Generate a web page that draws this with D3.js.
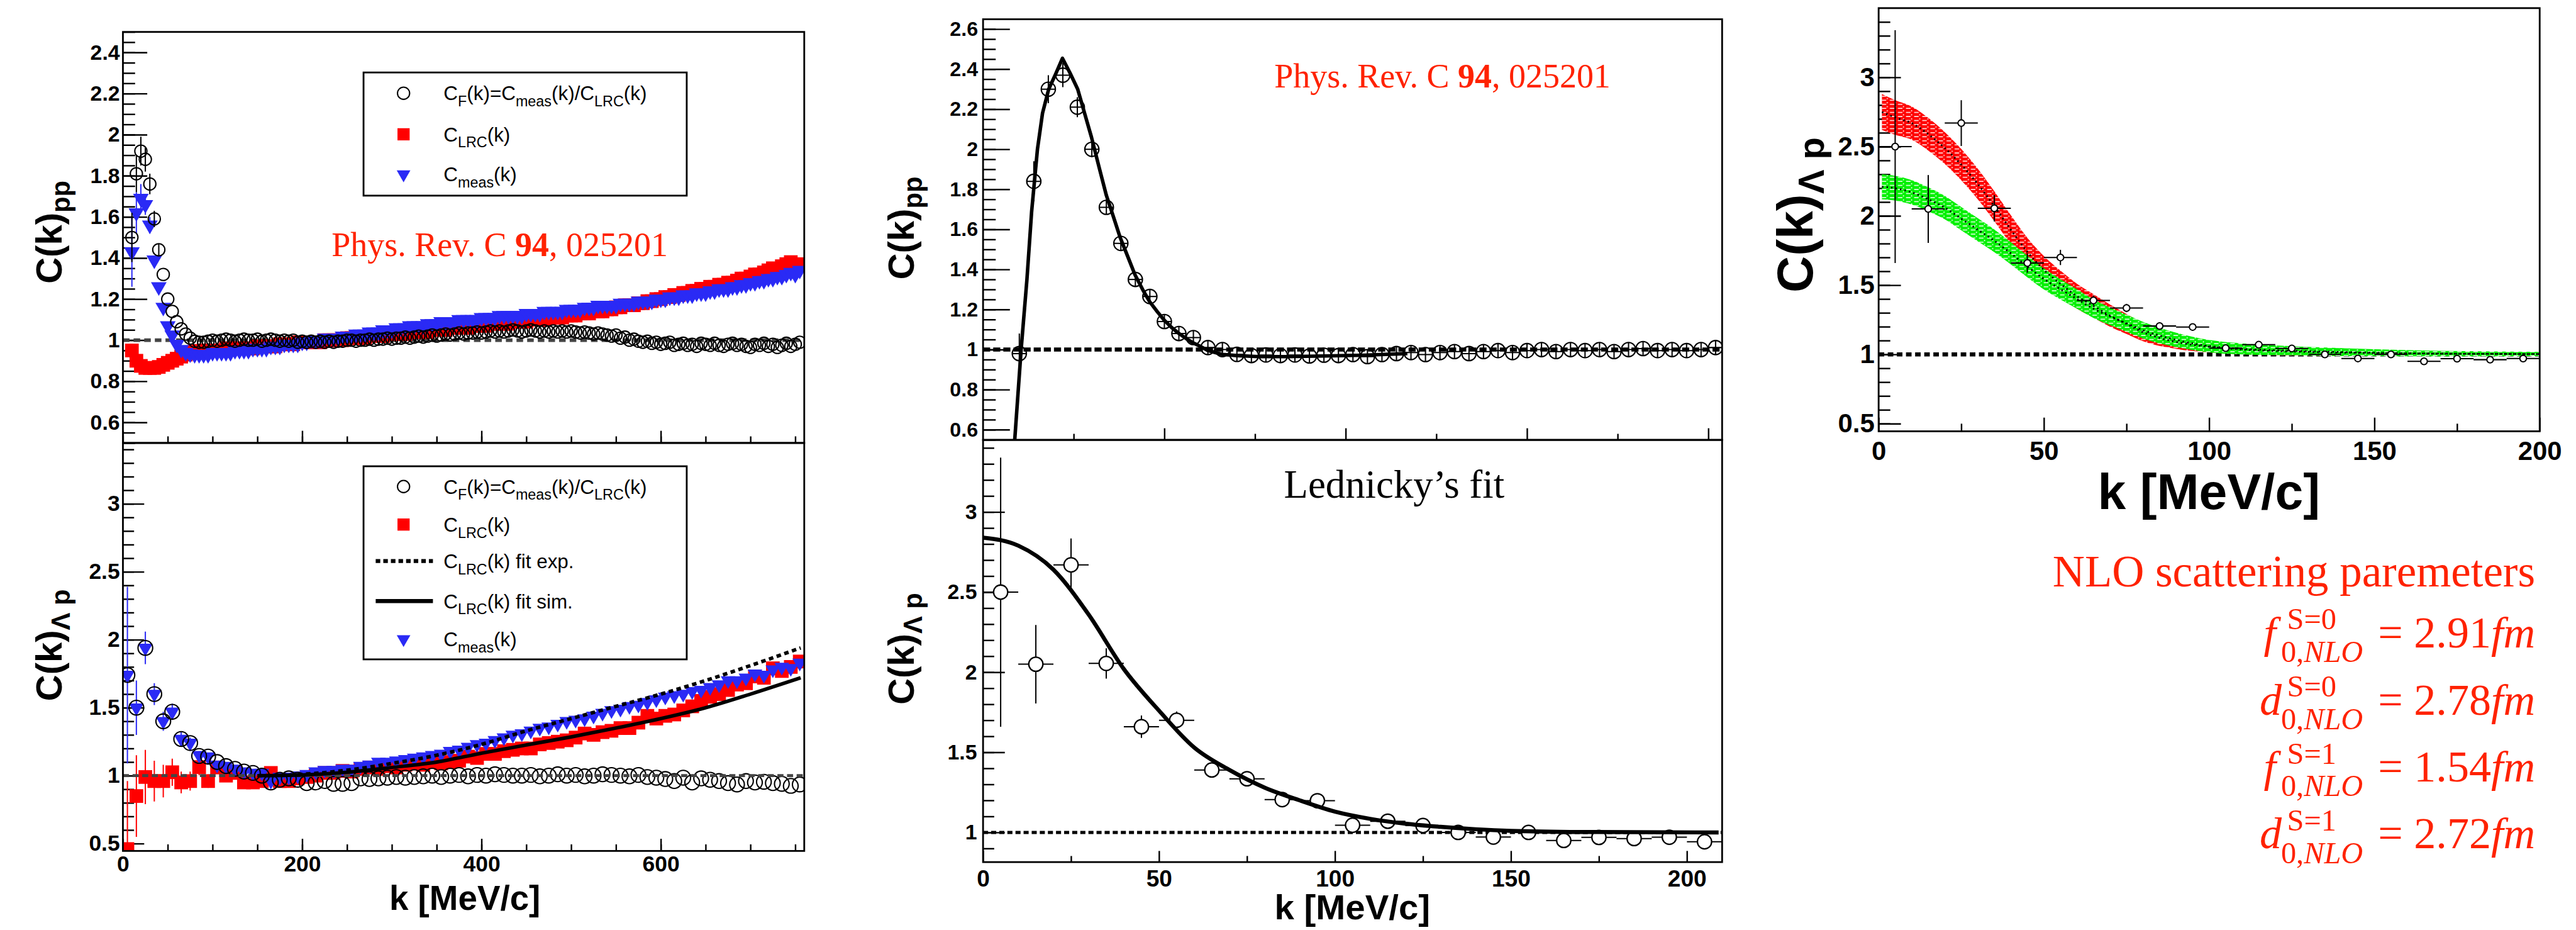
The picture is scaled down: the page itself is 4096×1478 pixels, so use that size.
<!DOCTYPE html>
<html>
<head>
<meta charset="utf-8">
<title>p-p and Lambda-p correlation functions</title>
<script src="https://d3js.org/d3.v7.min.js"></script>
<style>
  body { margin: 0; background: #fff; }
  svg { display: block; }
</style>
</head>
<body>
<svg id="fig" width="4096" height="1478" viewBox="0 0 5084 1835"></svg>
<script>
// ---------------- values ----------------

// top left: p-p, 5 MeV/c bins from 10 to 755
var ppBins = d3.range(10, 760, 5);
var ppCF = [1.50,1.81,1.92,1.88,1.76,1.59,1.44,1.32,1.20,1.14,1.09,1.055,1.03,1.01,0.995,0.99,
  0.99,0.995,1.0,0.995,1.0,1.005,1.0,0.995,1.0,1.005,1.0,1.0,1.005,0.995,1.0,1.005,1.0,0.995,1.0,0.995,
  1.0,0.99,0.995,0.99,0.995,0.99,0.995,0.99,0.995,0.99,0.995,0.995,1.0,
  1.0,0.995,1.0,1.0,1.005,1.0,1.005,1.005,1.01,1.005,1.01,1.01,1.015,1.01,1.015,1.02,1.015,1.02,1.025,1.02,
  1.025,1.03,1.025,1.03,1.035,1.03,1.035,1.035,1.04,1.035,
  1.04,1.045,1.04,1.045,1.04,1.045,1.05,1.045,1.04,1.045,1.05,1.045,1.04,1.045,1.04,1.045,1.04,1.045,1.04,1.045,
  1.04,1.035,1.04,1.035,1.03,1.035,1.03,1.025,
  1.02,1.025,1.01,1.015,1.0,1.005,0.995,0.99,0.995,0.985,0.99,0.98,0.985,0.99,0.975,0.98,0.985,0.975,0.98,0.97,
  0.985,0.98,0.975,0.985,0.975,0.97,0.98,0.985,0.975,0.98,0.97,0.965,0.98,0.975,0.985,0.97,0.98,0.965,0.975,0.985,
  0.97,0.98,0.99];
var ppCFErr = [0.12, 0.09, 0.07, 0.06, 0.05, 0.04, 0.03];
var ppMeas = [1.43,1.62,1.69,1.66,1.56,1.39,1.26,1.16,1.07,1.025,0.98,0.955,0.94,0.933,0.93,0.93,
  0.93,0.93,0.94,0.94,0.94,0.94,0.94,0.95,0.95,0.95,
  0.95,0.96,0.96,0.96,0.96,0.97,0.97,0.97,0.98,0.98,
  0.98,0.98,0.99,0.99,1.0,1.0,1.0,1.01,1.01,1.01,
  1.01,1.02,1.02,1.02,1.03,1.03,1.03,1.04,1.04,1.04,
  1.05,1.05,1.05,1.06,1.06,1.06,1.07,1.07,1.07,1.07,
  1.08,1.08,1.08,1.09,1.09,1.09,1.09,1.1,1.1,1.1,
  1.1,1.1,1.11,1.11,1.11,1.11,1.12,1.12,1.12,1.12,
  1.12,1.12,1.13,1.13,1.13,1.13,1.14,1.14,1.14,1.14,
  1.14,1.15,1.15,1.15,1.15,1.16,1.16,1.16,1.17,1.17,
  1.17,1.17,1.17,1.18,1.18,1.18,1.18,1.19,1.19,1.19,
  1.19,1.2,1.2,1.2,1.21,1.21,1.21,1.22,1.22,1.22,
  1.23,1.23,1.23,1.24,1.24,1.25,1.25,1.25,1.26,1.26,
  1.27,1.27,1.28,1.28,1.29,1.29,1.3,1.3,1.31,1.31,
  1.32,1.33,1.32,1.34];
var ppMeasErr = [0.17, 0.1, 0.07, 0.05, 0.04];
var ppLRC = [0.95,0.90,0.875,0.865,0.865,0.865,0.87,0.88,0.89,0.90,0.91,0.92,0.93,0.94,0.945,0.948,
  0.95,0.95,0.95,0.95,0.95,0.96,0.96,0.96,0.96,0.96,
  0.96,0.96,0.97,0.97,0.97,0.97,0.97,0.98,0.98,0.98,
  0.98,0.99,0.99,0.99,0.99,0.99,0.99,1.0,1.0,1.0,
  1.0,1.0,1.01,1.01,1.01,1.01,1.01,1.02,1.02,1.02,
  1.02,1.03,1.03,1.03,1.03,1.03,1.04,1.04,1.04,1.04,
  1.04,1.05,1.05,1.05,1.05,1.06,1.06,1.06,1.06,1.06,
  1.07,1.07,1.07,1.07,1.08,1.08,1.08,1.08,1.08,1.09,
  1.09,1.09,1.09,1.1,1.1,1.1,1.1,1.11,1.11,1.11,
  1.11,1.12,1.12,1.12,1.13,1.13,1.13,1.14,1.14,1.14,
  1.15,1.15,1.16,1.16,1.17,1.17,1.17,1.18,1.18,1.19,
  1.19,1.2,1.2,1.21,1.21,1.22,1.22,1.23,1.23,1.24,
  1.24,1.25,1.25,1.26,1.26,1.27,1.27,1.28,1.28,1.29,
  1.3,1.3,1.31,1.32,1.32,1.33,1.34,1.35,1.34,1.36,
  1.37,1.38,1.36,1.37];

// bottom left: Lambda-p, 10 MeV/c bins from 5 to 755
var lpBinsWide = d3.range(5, 760, 10);
var lpCF = [1.74,1.50,1.94,1.60,1.40,1.47,1.27,1.24,1.145,1.14,
  1.10,1.07,1.05,1.03,1.02,1.0,0.95,0.97,0.98,0.97,
  0.945,0.95,0.96,0.94,0.94,0.945,0.98,0.975,0.98,0.985,
  0.99,0.985,0.99,0.995,1.0,0.99,1.0,1.005,0.995,1.005,
  1.0,1.01,1.005,1.0,1.0,1.005,0.995,1.0,1.01,1.0,
  1.005,0.995,1.0,1.01,1.005,1.0,0.995,1.005,0.99,0.985,
  0.975,0.96,0.985,0.95,0.98,0.97,0.96,0.945,0.935,0.96,
  0.95,0.955,0.945,0.94,0.925,0.935];
var lpMeas = [1.74,1.50,1.94,1.60,1.40,1.47,1.27,1.24,1.15,1.14,
  1.08,1.07,1.05,1.03,1.02,1.02,0.96,0.99,0.99,1.0,
  1.01,1.03,1.04,1.04,1.05,1.05,1.07,1.08,1.1,1.1,
  1.11,1.12,1.13,1.14,1.15,1.16,1.18,1.19,1.21,1.23,
  1.24,1.26,1.28,1.3,1.31,1.33,1.35,1.36,1.38,1.4,
  1.41,1.42,1.44,1.46,1.48,1.49,1.51,1.52,1.54,1.56,
  1.58,1.59,1.6,1.62,1.63,1.65,1.67,1.7,1.7,1.72,
  1.75,1.74,1.78,1.8,1.79,1.83];
var lpMeasErr = [0.65, 0.2, 0.12, 0.08, 0.07, 0.06, 0.05, 0.04, 0.03, 0.03];
var lpLRC = [0.46,0.85,0.99,0.96,0.96,1.025,0.95,0.96,1.063,0.96,
  1.06,1.0,1.02,0.95,0.95,0.96,1.02,0.96,0.96,0.98,
  0.99,1.0,1.02,1.02,1.035,1.03,1.05,1.06,1.05,1.07,
  1.06,1.08,1.09,1.08,1.1,1.09,1.1,1.11,1.14,1.13,
  1.16,1.16,1.18,1.19,1.2,1.2,1.23,1.24,1.25,1.26,
  1.28,1.31,1.3,1.32,1.33,1.35,1.35,1.39,1.44,1.42,
  1.44,1.45,1.48,1.51,1.55,1.58,1.6,1.63,1.67,1.68,
  1.73,1.72,1.79,1.77,1.8,1.84];
var lpLRCErr = [0.5, 0.3, 0.2, 0.15, 0.12, 0.1, 0.08, 0.07, 0.06, 0.05];
var lrcFitK = [150, 200, 250, 300, 350, 400, 450, 500, 550, 600, 650, 700, 756];
var lrcFitExp = [1.0, 1.01, 1.04, 1.09, 1.15, 1.23, 1.33, 1.42, 1.51, 1.60, 1.70, 1.81, 1.94];
var lrcFitSim = [1.0, 1.005, 1.025, 1.06, 1.10, 1.165, 1.226, 1.285, 1.35, 1.42, 1.50, 1.60, 1.72];

// top middle: p-p (Phys. Rev. C 94, 025201), 4 MeV/c bins
var ppNarrowBins = d3.range(10, 203, 4);
var ppNarrow = [0.98,1.84,2.30,2.37,2.21,2.00,1.71,1.53,1.35,1.265,
  1.14,1.08,1.06,1.01,1.0,0.976,0.97,0.973,0.97,0.973,
  0.968,0.972,0.97,0.975,0.965,0.975,0.98,0.985,0.975,0.985,
  0.99,0.98,0.99,0.995,0.985,0.995,1.0,0.99,1.0,0.995,
  1.0,0.99,1.0,1.005,0.995,1.0,0.995,1.0,1.01];
var ppNarrowErr = [0.1, 0.1, 0.07, 0.06, 0.05, 0.04];
var ppFitK = [8.7,10.5,12.1,13.4,15.0,16.4,18.1,20.0,21.9,24,26.1,28,29.9,32,34,36,37.8,40,41.9,
  44,45.9,48,49.9,52,53.9,56,57.8,60,62,64,66,70,76,84,94,105,117];
var ppFitV = [0.54,1.0,1.35,1.69,2.0,2.18,2.30,2.375,2.454,2.38,2.30,2.18,2.06,1.91,1.77,1.66,1.56,1.46,1.373,
  1.30,1.24,1.19,1.148,1.11,1.082,1.055,1.035,1.015,0.995,0.985,0.976,0.97,0.965,0.965,0.968,0.972,0.98];

// Lambda-p data shown in the middle and right panels, 10 MeV/c bins
var lpBins = d3.range(5, 210, 10);
var lpVal = [2.50,2.05,2.67,2.055,1.66,1.70,1.39,1.335,1.205,1.198,1.045,1.07,1.043,1.0,0.971,1.0,0.95,0.969,0.962,0.97,0.942];
var lpErr = [0.84,0.245,0.165,0.095,0.07,0.055,0.035,0.03,0.025,0.025,0.02,0.02,0.02,0.015,0.015,0.015,0.015,0.015,0.015,0.015,0.015];
var ledK = [0,10,20,30,40,50,60,70,80,90,100,110,120,130,140,150,170,209];
var ledV = [2.84,2.79,2.64,2.36,2.02,1.76,1.53,1.39,1.28,1.20,1.13,1.085,1.055,1.035,1.02,1.01,1.003,1.0];

// right: NLO bands
var bandK = [1,5,10,15,20,25,30,35,40,45,50,55,60,65,70,75,80,90,100,110,120,135,150,170,200];
var redMid = [2.75,2.71,2.67,2.59,2.49,2.37,2.23,2.07,1.90,1.74,1.61,1.51,1.42,1.35,1.28,1.22,1.16,1.09,1.055,1.035,1.025,1.015,1.01,1.005,1.003];
var redHalf = [0.13,0.125,0.12,0.118,0.115,0.113,0.11,0.108,0.105,0.102,0.1,0.095,0.09,0.085,0.08,0.072,0.065,0.05,0.04,0.034,0.03,0.025,0.02,0.015,0.012];
var greenMid = [2.21,2.20,2.17,2.12,2.06,1.98,1.90,1.82,1.73,1.635,1.545,1.47,1.40,1.33,1.275,1.225,1.175,1.105,1.06,1.04,1.03,1.02,1.012,1.006,1.003];
var greenHalf = [0.09,0.089,0.088,0.087,0.085,0.084,0.083,0.082,0.08,0.078,0.076,0.073,0.07,0.067,0.064,0.062,0.06,0.052,0.045,0.04,0.035,0.03,0.025,0.02,0.015];

var nloSym = ["f", "d", "f", "d"];
var nloSpin = ["S=0", "S=0", "S=1", "S=1"];
var nloVal = ["2.91", "2.78", "1.54", "2.72"];

// ---------------- drawing ----------------
var SANS = "'Liberation Sans', Arial, Helvetica, sans-serif";
var SERIF = "'Liberation Serif', 'Times New Roman', serif";
var RED = "#ff0000", BLUE = "#2a2af5", GREEN = "#00f000", TXTRED = "#ff2200";

var svg = d3.select("#fig");
svg.append("rect").attr("width", 5084).attr("height", 1835).attr("fill", "#fff");
var defs = svg.append("defs");

function hatch(id, col) {
  var p = defs.append("pattern").attr("id", id).attr("patternUnits", "userSpaceOnUse")
    .attr("width", 16).attr("height", 8);
  p.append("rect").attr("width", 16).attr("height", 8).attr("fill", col);
  p.append("rect").attr("x", 2).attr("y", 5).attr("width", 9).attr("height", 1.8).attr("fill", "#fff");
  p.append("rect").attr("x", 12).attr("y", 1.5).attr("width", 2.2).attr("height", 2.2).attr("fill", "#fff");
}
hatch("hatchRed", RED);
hatch("hatchGreen", GREEN);

var panels = [];
function panel(o) {
  var x = d3.scaleLinear().domain(o.xd).range([o.l, o.r]);
  var y = d3.scaleLinear().domain(o.yd).range([o.b, o.t]);
  var cid = "clip-" + o.name;
  defs.append("clipPath").attr("id", cid).append("rect")
    .attr("x", o.l).attr("y", o.t).attr("width", o.r - o.l).attr("height", o.b - o.t);
  var axes = svg.append("g");
  var plot = svg.append("g").attr("clip-path", "url(#" + cid + ")");

  function style(g, fs) {
    g.select(".domain").remove();
    g.selectAll("line").attr("stroke", "#000").attr("stroke-width", 3);
    g.attr("font-size", fs).attr("font-family", SANS).attr("font-weight", "bold");
    g.selectAll("text").attr("fill", "#000");
  }
  axes.append("g").attr("transform", "translate(" + o.l + ",0)")
    .call(d3.axisLeft(y).tickValues(o.yMinor).tickSize(-o.yMinorLen).tickFormat(""))
    .call(style, 10);
  axes.append("g").attr("transform", "translate(" + o.l + ",0)")
    .call(d3.axisLeft(y).tickValues(o.yMajor).tickSize(-o.yMajorLen).tickPadding(o.yPad).tickFormat(String))
    .call(style, o.yFont);
  axes.append("g").attr("transform", "translate(0," + o.b + ")")
    .call(d3.axisBottom(x).tickValues(o.xMinor).tickSize(-o.xMinorLen).tickFormat(""))
    .call(style, 10);
  axes.append("g").attr("transform", "translate(0," + o.b + ")")
    .call(d3.axisBottom(x).tickValues(o.xMajor).tickSize(-o.xMajorLen).tickPadding(o.xPad || 0)
      .tickFormat(o.xLabels ? String : ""))
    .call(style, o.xFont || 10);

  var p = {x: x, y: y, plot: plot, o: o};
  panels.push(p);
  return p;
}

function rich(text, parts, subSize, shift) {
  var cur = 0;
  parts.forEach(function(pt) {
    var t = text.append("tspan").text(pt[0]);
    var target = pt[1] === "sub" ? shift : 0;
    if (target !== cur) { t.attr("dy", target - cur); cur = target; }
    if (pt[1]) t.attr("font-size", subSize);
  });
}

function yTitle(x, y, fs, sub) {
  var t = svg.append("text").attr("transform", "translate(" + x + "," + y + ") rotate(-90)")
    .attr("text-anchor", "middle").attr("font-family", SANS).attr("font-weight", "bold")
    .attr("font-size", fs);
  rich(t, [["C(k)"], [sub, "sub"]], fs * 0.72, fs * 0.22);
}
function xTitle(x, y, fs) {
  svg.append("text").attr("x", x).attr("y", y).attr("text-anchor", "middle")
    .attr("font-family", SANS).attr("font-weight", "bold").attr("font-size", fs).text("k [MeV/c]");
}
function unitLine(p, x0, x1, col, w, dash) {
  p.plot.append("line").attr("x1", p.x(x0)).attr("x2", p.x(x1)).attr("y1", p.y(1)).attr("y2", p.y(1))
    .attr("stroke", col).attr("stroke-width", w).attr("stroke-dasharray", dash);
}
function rows(bins, vals, errs) {
  return bins.map(function(k, i) { return {k: k, v: vals[i], e: (errs && errs[i]) || 0}; })
    .filter(function(d) { return d.v !== undefined; });
}
function squares(p, data, s, col) {
  p.plot.append("g").selectAll("rect").data(data).join("rect")
    .attr("x", function(d) { return p.x(d.k) - s / 2; })
    .attr("y", function(d) { return p.y(d.v) - s / 2; })
    .attr("width", s).attr("height", s).attr("fill", col);
}
function triangles(p, data, w, col) {
  var sym = d3.symbol().type(d3.symbolTriangle).size(Math.sqrt(3) / 4 * w * w);
  p.plot.append("g").selectAll("path").data(data).join("path")
    .attr("d", sym)
    .attr("transform", function(d) { return "translate(" + p.x(d.k) + "," + p.y(d.v) + ") rotate(180)"; })
    .attr("fill", col);
}
function circles(p, data, r, sw, fill) {
  p.plot.append("g").selectAll("circle").data(data).join("circle")
    .attr("cx", function(d) { return p.x(d.k); })
    .attr("cy", function(d) { return p.y(d.v); })
    .attr("r", r).attr("fill", fill || "none").attr("stroke", "#000").attr("stroke-width", sw);
}
function yErrors(p, data, col, sw) {
  p.plot.append("g").selectAll("line").data(data.filter(function(d) { return d.e > 0; })).join("line")
    .attr("x1", function(d) { return p.x(d.k); }).attr("x2", function(d) { return p.x(d.k); })
    .attr("y1", function(d) { return p.y(d.v - d.e); }).attr("y2", function(d) { return p.y(d.v + d.e); })
    .attr("stroke", col).attr("stroke-width", sw);
}
function xErrors(p, data, half, sw) {
  p.plot.append("g").selectAll("line").data(data).join("line")
    .attr("x1", function(d) { return p.x(d.k - half); }).attr("x2", function(d) { return p.x(d.k + half); })
    .attr("y1", function(d) { return p.y(d.v); }).attr("y2", function(d) { return p.y(d.v); })
    .attr("stroke", "#000").attr("stroke-width", sw);
}
function curve(p, ks, vs, col, w, dash, smooth) {
  var line = d3.line().x(function(d) { return p.x(d[0]); }).y(function(d) { return p.y(d[1]); })
    .curve(smooth ? d3.curveMonotoneX : d3.curveLinear);
  p.plot.append("path").datum(ks.map(function(k, i) { return [k, vs[i]]; }))
    .attr("d", line).attr("fill", "none").attr("stroke", col).attr("stroke-width", w)
    .attr("stroke-dasharray", dash || null).attr("stroke-linejoin", "round");
}

// ---- top left: pp ----
var tl = panel({name: "tl", l: 242, r: 1587, t: 63, b: 874, xd: [0, 760], yd: [0.5, 2.5],
  yMajor: [0.6, 0.8, 1, 1.2, 1.4, 1.6, 1.8, 2, 2.2, 2.4], yMinor: d3.range(0.5, 2.51, 0.05),
  yMajorLen: 48, yMinorLen: 24, yFont: 42, yPad: 6,
  xMajor: [0, 200, 400, 600], xMinor: d3.range(0, 761, 50), xMajorLen: 24, xMinorLen: 13});
unitLine(tl, 0, 760, "#444", 7, "13,8");
var tlCF = rows(ppBins, ppCF, ppCFErr);
var tlMeas = rows(ppBins, ppMeas, ppMeasErr);
squares(tl, rows(ppBins, ppLRC), 27, RED);
yErrors(tl, tlMeas, BLUE, 2.5);
triangles(tl, tlMeas, 31, BLUE);
yErrors(tl, tlCF, "#000", 2.5);
circles(tl, tlCF, 12, 2.6);

// ---- bottom left: Lambda p ----
var bl = panel({name: "bl", l: 242, r: 1587, t: 874, b: 1679, xd: [0, 760], yd: [0.446, 3.448],
  yMajor: [0.5, 1, 1.5, 2, 2.5, 3], yMinor: d3.range(0.5, 3.45, 0.1),
  yMajorLen: 42, yMinorLen: 22, yFont: 44, yPad: 6,
  xMajor: [0, 200, 400, 600], xMinor: d3.range(0, 761, 50), xMajorLen: 24, xMinorLen: 13,
  xLabels: true, xFont: 44, xPad: 9});
var blLRC = rows(lpBinsWide, lpLRC, lpLRCErr);
var blMeas = rows(lpBinsWide, lpMeas, lpMeasErr);
yErrors(bl, blLRC, RED, 2.5);
squares(bl, blLRC, 27, RED);
yErrors(bl, blMeas, BLUE, 2.5);
triangles(bl, blMeas, 29, BLUE);
circles(bl, rows(lpBinsWide, lpCF), 14.5, 2.6);
unitLine(bl, 0, 760, "#444", 6, "12,7");
curve(bl, lrcFitK, lrcFitExp, "#000", 7, "9,7", true);
curve(bl, lrcFitK, lrcFitSim, "#000", 7, null, true);

// ---- top middle: pp with fit ----
var tm = panel({name: "tm", l: 1940, r: 3399, t: 38, b: 868, xd: [0, 203.8], yd: [0.549, 2.649],
  yMajor: [0.6, 0.8, 1, 1.2, 1.4, 1.6, 1.8, 2, 2.2, 2.4, 2.6], yMinor: d3.range(0.55, 2.65, 0.05),
  yMajorLen: 53, yMinorLen: 25, yFont: 40, yPad: 10,
  xMajor: [50, 100, 150, 200], xMinor: [25, 75, 125, 175], xMajorLen: 23, xMinorLen: 12});
var tmData = rows(ppNarrowBins, ppNarrow, ppNarrowErr).map(function(d) {
  return {k: d.k, v: d.v, e: Math.max(d.e, 0.035)};
});
yErrors(tm, tmData, "#000", 2.5);
xErrors(tm, tmData, 2, 2.5);
circles(tm, tmData, 14, 2.6);
unitLine(tm, 0, 204, "#000", 8, "14,6");
curve(tm, ppFitK, ppFitV, "#000", 7, null, false);

// ---- bottom middle: Lednicky fit ----
var bm = panel({name: "bm", l: 1940, r: 3399, t: 868, b: 1701, xd: [0, 210], yd: [0.815, 3.45],
  yMajor: [1, 1.5, 2, 2.5, 3], yMinor: d3.range(0.9, 3.45, 0.1),
  yMajorLen: 43, yMinorLen: 22, yFont: 42, yPad: 12,
  xMajor: [0, 50, 100, 150, 200], xMinor: [25, 75, 125, 175], xMajorLen: 22, xMinorLen: 12,
  xLabels: true, xFont: 46, xPad: 16});
var bmData = rows(lpBins, lpVal, lpErr);
unitLine(bm, 0, 210, "#000", 6, "10,6");
yErrors(bm, bmData, "#000", 2.5);
xErrors(bm, bmData, 5, 2.5);
circles(bm, bmData, 14, 2.8, "#fff");
curve(bm, ledK, ledV, "#000", 8, null, true);

// ---- right: NLO bands ----
var rt = panel({name: "rt", l: 3708, r: 5013, t: 16, b: 851, xd: [0, 200], yd: [0.445, 3.5],
  yMajor: [0.5, 1, 1.5, 2, 2.5, 3], yMinor: d3.range(0.5, 3.5, 0.1),
  yMajorLen: 44, yMinorLen: 23, yFont: 52, yPad: 8,
  xMajor: [0, 50, 100, 150, 200], xMinor: [25, 75, 125, 175], xMajorLen: 27, xMinorLen: 15,
  xLabels: true, xFont: 52, xPad: 20});
unitLine(rt, 0, 200, "#000", 8, "11,7");
function band(mid, half, fill) {
  var area = d3.area().x(function(d) { return rt.x(d.k); })
    .y0(function(d) { return rt.y(d.m - d.h); }).y1(function(d) { return rt.y(d.m + d.h); })
    .curve(d3.curveMonotoneX);
  var data = bandK.map(function(k, i) { return {k: k, m: mid[i], h: half[i]}; });
  rt.plot.append("path").datum(data).attr("d", area).attr("fill", fill);
}
band(redMid, redHalf, "url(#hatchRed)");
band(greenMid, greenHalf, "url(#hatchGreen)");
curve(rt, bandK, redMid, "#000", 3.5, "3,6", true);
curve(rt, bandK, greenMid, "#000", 3.5, "3,6", true);
var rtData = rows(lpBins, lpVal, lpErr).filter(function(d) { return d.k < 200; });
yErrors(rt, rtData, "#000", 2.5);
xErrors(rt, rtData, 5, 2.5);
circles(rt, rtData, 6.5, 2.5, "#fff");

// frames on top
panels.forEach(function(p) {
  svg.append("rect").attr("x", p.o.l).attr("y", p.o.t).attr("width", p.o.r - p.o.l).attr("height", p.o.b - p.o.t)
    .attr("fill", "none").attr("stroke", "#000").attr("stroke-width", 3.5);
});

// axis titles
yTitle(121, 458, 72, "pp");
yTitle(121, 1273, 72, "\u039b p");
yTitle(1803, 450, 72, "pp");
yTitle(1803, 1280, 72, "\u039b p");
yTitle(3578, 424, 100, "\u039b p");
xTitle(917, 1795, 68);
xTitle(2669, 1814, 70);
xTitle(4360, 1005, 100);

// ---- legends ----
function legendBox(x0, y0, x1, y1) {
  svg.append("rect").attr("x", x0).attr("y", y0).attr("width", x1 - x0).attr("height", y1 - y0)
    .attr("fill", "#fff").attr("stroke", "#000").attr("stroke-width", 3.5);
}
function legendText(y, parts) {
  var t = svg.append("text").attr("x", 875).attr("y", y + 14).attr("font-family", SANS).attr("font-size", 39);
  rich(t, parts, 29, 12);
}
function legendMarker(kind, y, col) {
  var g = svg.append("g").attr("transform", "translate(796," + y + ")");
  if (kind === "circle") g.append("circle").attr("r", 12).attr("fill", "none").attr("stroke", "#000").attr("stroke-width", 2.6);
  if (kind === "square") g.append("rect").attr("x", -12).attr("y", -12).attr("width", 24).attr("height", 24).attr("fill", col);
  if (kind === "tri") g.append("path").attr("d", d3.symbol().type(d3.symbolTriangle).size(Math.sqrt(3) / 4 * 27 * 27))
    .attr("transform", "rotate(180)").attr("fill", col);
  if (kind === "dash" || kind === "solid") g.append("line").attr("x1", -55).attr("x2", 58)
    .attr("stroke", "#000").attr("stroke-width", 8).attr("stroke-dasharray", kind === "dash" ? "9,6" : null);
}
var cfParts = [["C"], ["F", "sub"], ["(k)=C"], ["meas", "sub"], ["(k)/C"], ["LRC", "sub"], ["(k)"]];

legendBox(717, 143, 1355, 386);
legendMarker("circle", 184); legendText(184, cfParts);
legendMarker("square", 265, RED); legendText(265, [["C"], ["LRC", "sub"], ["(k)"]]);
legendMarker("tri", 344, BLUE); legendText(344, [["C"], ["meas", "sub"], ["(k)"]]);

legendBox(717, 920, 1355, 1301);
legendMarker("circle", 960); legendText(960, cfParts);
legendMarker("square", 1035, RED); legendText(1035, [["C"], ["LRC", "sub"], ["(k)"]]);
legendMarker("dash", 1107); legendText(1107, [["C"], ["LRC", "sub"], ["(k) fit exp."]]);
legendMarker("solid", 1186); legendText(1186, [["C"], ["LRC", "sub"], ["(k) fit sim."]]);
legendMarker("tri", 1261, BLUE); legendText(1261, [["C"], ["meas", "sub"], ["(k)"]]);

// ---- annotations ----
function physRef(x, y) {
  var t = svg.append("text").attr("x", x).attr("y", y).attr("font-family", SERIF)
    .attr("font-size", 67).attr("fill", TXTRED);
  t.append("tspan").text("Phys. Rev. C ");
  t.append("tspan").attr("font-weight", "bold").text("94");
  t.append("tspan").text(", 025201");
}
physRef(654, 505);
physRef(2515, 172);

svg.append("text").attr("x", 2534).attr("y", 982).attr("font-family", SERIF).attr("font-size", 78)
  .attr("fill", "#000").text("Lednicky\u2019s fit");

svg.append("text").attr("x", 5004).attr("y", 1157).attr("text-anchor", "end").attr("font-family", SERIF)
  .attr("font-size", 88).attr("fill", TXTRED).text("NLO scattering paremeters");

var nloBase = [1277, 1410, 1542, 1674];
nloSym.forEach(function(sym, i) {
  var R = 5004, yb = nloBase[i];
  var main = svg.append("text").attr("x", R).attr("y", yb).attr("text-anchor", "end")
    .attr("font-family", SERIF).attr("font-size", 87).attr("fill", TXTRED);
  main.append("tspan").text("= " + nloVal[i]);
  main.append("tspan").attr("font-style", "italic").text("fm");
  var mw = main.node().getComputedTextLength();
  var subEnd = R - mw - 30;
  var sub = svg.append("text").attr("x", subEnd).attr("y", yb + 29).attr("text-anchor", "end")
    .attr("font-family", SERIF).attr("font-size", 60).attr("fill", TXTRED);
  sub.append("tspan").text("0,");
  sub.append("tspan").attr("font-style", "italic").text("NLO");
  var subStart = subEnd - sub.node().getComputedTextLength();
  svg.append("text").attr("x", subStart + 12).attr("y", yb - 35).attr("font-family", SERIF)
    .attr("font-size", 60).attr("fill", TXTRED).text(nloSpin[i]);
  svg.append("text").attr("x", subStart - (sym === "d" ? 42 : 34)).attr("y", yb).attr("font-family", SERIF)
    .attr("font-size", 87).attr("font-style", "italic").attr("fill", TXTRED).text(sym);
});
</script>
</body>
</html>
